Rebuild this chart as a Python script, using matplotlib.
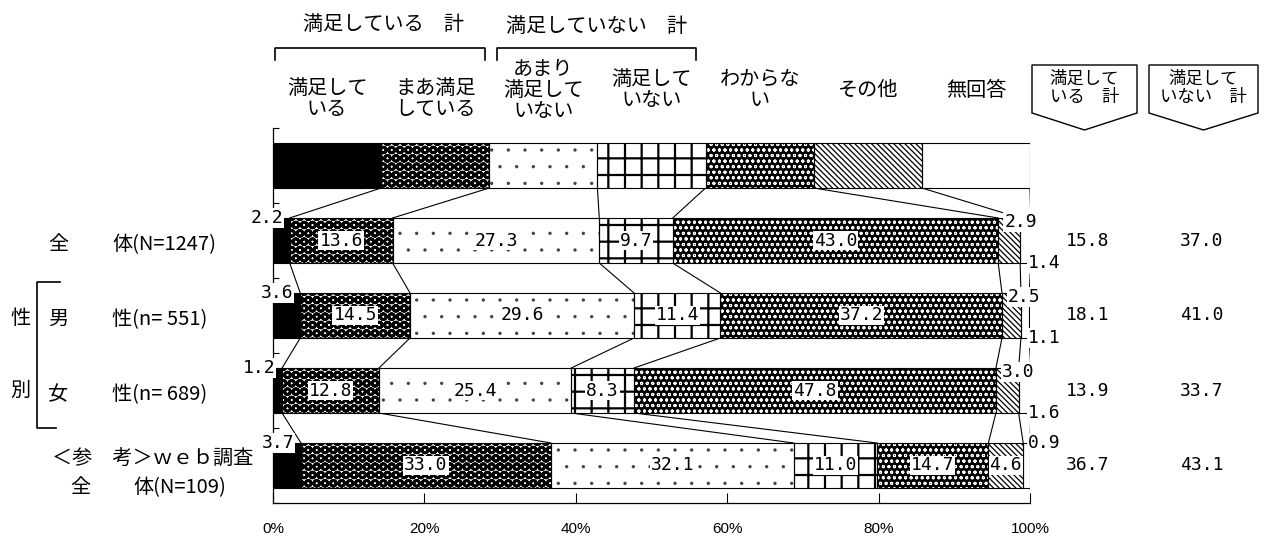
import numpy as np
import matplotlib
matplotlib.use('Agg')
import matplotlib.pyplot as plt
from matplotlib.patches import Polygon
from matplotlib.lines import Line2D
from matplotlib.transforms import blended_transform_factory

JP = ['Noto Sans CJK JP', 'DejaVu Sans']
NUM = ['DejaVu Sans Mono']
plt.rcParams['font.family'] = JP
FS = 14.5

# data
cats = ['満足して\nいる', 'まあ満足\nしている', 'あまり\n満足して\nいない', '満足して\nいない',
        'わからな\nい', 'その他', '無回答']
row_all = [2.2, 13.6, 27.3, 9.7, 43.0, 2.9, 1.4]
row_male = [3.6, 14.5, 29.6, 11.4, 37.2, 2.5, 1.1]
row_female = [1.2, 12.8, 25.4, 8.3, 47.8, 3.0, 1.6]
row_web = [3.7, 33.0, 32.1, 11.0, 14.7, 4.6, 0.9]
rows = [row_all, row_male, row_female, row_web]
sat_total = [15.8, 18.1, 13.9, 36.7]
unsat_total = [37.0, 41.0, 33.7, 43.1]

# (face, hatch colour, hatch, hatch linewidth) per answer
styles = [
    ('black', 'black', None, 1.0),
    ('white', 'black', 'OO', 2.0),
    ('white', '#444444', '.', 0.0),
    ('white', 'black', '+', 1.6),
    ('black', 'white', 'ooo', 0.7),
    ('white', 'black', '\\\\\\\\\\\\', 0.9),
    ('white', 'white', None, 1.0),
]

W, H = 1264, 541
fig = plt.figure(figsize=(W / 100, H / 100), dpi=100)
ax = fig.add_axes([273 / W, 38 / H, 757 / W, 375 / H])

legend_vals = [100 / 7] * 7
all_rows = [legend_vals] + rows
bh = 0.6

cums = []
for r, vals in enumerate(all_rows):
    left = 0
    c = [0]
    for k, v in enumerate(vals):
        face, hc, hatch, hlw = styles[k]
        with plt.rc_context({'hatch.linewidth': hlw}):
            ax.barh(r, v, left=left, height=bh, color=face, edgecolor=hc,
                    hatch=hatch, linewidth=0, zorder=2)
        ax.barh(r, v, left=left, height=bh, fill=False, edgecolor='black',
                linewidth=0.8, zorder=3)
        left += v
        c.append(left)
    cums.append(c)

# connecting lines between bars
for r in range(len(all_rows) - 1):
    for k in range(1, 8):
        ax.plot([cums[r][k], cums[r + 1][k]], [r + bh / 2, r + 1 - bh / 2],
                color='black', lw=0.8, zorder=1)

# value labels
box = dict(facecolor='white', edgecolor='none', pad=0.6)
for i, vals in enumerate(rows):
    r = i + 1
    c = cums[r]
    other_out = vals[5] < 4
    for k, v in enumerate(vals):
        s = '%.1f' % v
        if k == 0:
            ax.text(c[1] - 0.9, r - bh / 2, s, ha='right', va='center', family=NUM,
                    fontsize=13, bbox=box, zorder=5)
        elif k == 5 and other_out:
            ax.text(c[5] + 0.8, r - bh / 2 + 0.05, s, ha='left', va='center', family=NUM,
                    fontsize=13, bbox=box, zorder=5)
        elif k == 6:
            y = r + bh / 2 if other_out else r - bh / 2
            ax.text(99.7, y, s, ha='left', va='center', family=NUM,
                    fontsize=13, bbox=box, zorder=5)
        else:
            ax.text((c[k] + c[k + 1]) / 2, r, s, ha='center', va='center', family=NUM,
                    fontsize=13, bbox=box, zorder=5)

ax.set_xlim(0, 100)
ax.set_ylim(4.5, -0.5)
ax.set_xticks(range(0, 101, 20))
ax.set_xticklabels(['%d%%' % t for t in range(0, 101, 20)],
                   family=['Liberation Sans Narrow', 'Liberation Sans'], fontsize=11)
ax.set_yticks(np.arange(-0.5, 4.6, 1))
ax.set_yticklabels([])
ax.tick_params(axis='x', direction='in', length=7, pad=14)
ax.tick_params(axis='y', direction='in', length=4)
ax.spines['top'].set_visible(False)
ax.spines['right'].set_visible(False)
for s in ['left', 'bottom']:
    ax.spines[s].set_linewidth(0.9)

# column headers above the legend bar
tx = blended_transform_factory(ax.transData, fig.transFigure)
for k, name in enumerate(cats):
    y = 99 if k < 2 else 90
    fig.text((k + 0.5) * 100 / 7, 1 - y / H, name, transform=tx, ha='center',
             va='center', fontsize=FS, linespacing=1.0)

fig.text(14.6, 1 - 25 / H, '満足している　計', transform=tx, ha='center', va='center', fontsize=FS)
fig.text(42.8, 1 - 26 / H, '満足していない　計', transform=tx, ha='center', va='center', fontsize=FS)
for x0, x1 in [(0.3, 28.0), (29.6, 55.9)]:
    fig.add_artist(Line2D([x0, x0, x1, x1], [1 - 60 / H, 1 - 48 / H, 1 - 48 / H, 1 - 60 / H],
                          transform=tx, color='black', lw=1.2))

# total boxes on the right
for x0, x1, txt in [(1032, 1137, '満足して\nいる　計'), (1149, 1258, '満足して\nいない　計')]:
    pts = [(x0, 65), (x1, 65), (x1, 113), ((x0 + x1) / 2, 130), (x0, 113)]
    fig.add_artist(Polygon([(x / W, 1 - y / H) for x, y in pts], closed=True,
                           transform=fig.transFigure, facecolor='white',
                           edgecolor='black', lw=1.0))
    fig.text((x0 + x1) / 2 / W, 1 - 88 / H, txt, ha='center', va='center',
             fontsize=12.5, linespacing=1.0)

ty = blended_transform_factory(fig.transFigure, ax.transData)
for i in range(len(rows)):
    fig.text(1088 / W, i + 1, '%.1f' % sat_total[i], transform=ty, ha='center',
             va='center', family=NUM, fontsize=13)
    fig.text(1202 / W, i + 1, '%.1f' % unsat_total[i], transform=ty, ha='center',
             va='center', family=NUM, fontsize=13)

# row labels
row_names = ['体(N=1247)', '性(n= 551)', '性(n= 689)']
row_first = ['全', '男', '女']
for i in range(3):
    fig.text(48 / W, i + 1.05, row_first[i], transform=ty, ha='left', va='center', fontsize=FS)
    fig.text(112 / W, i + 1.05, row_names[i], transform=ty, ha='left', va='center', fontsize=FS)
fig.text(52 / W, 3.92, '＜参　考＞ｗｅｂ調査', transform=ty, ha='left', va='center', fontsize=FS)
fig.text(70 / W, 4.3, '全', transform=ty, ha='left', va='center', fontsize=FS)
fig.text(133 / W, 4.3, '体(N=109)', transform=ty, ha='left', va='center', fontsize=FS)

fig.text(20 / W, 1 - 318 / H, '性', ha='center', va='center', fontsize=FS)
fig.text(20 / W, 1 - 390 / H, '別', ha='center', va='center', fontsize=FS)
fig.add_artist(Line2D([60 / W, 37 / W, 37 / W, 56 / W],
                      [1 - 282 / H, 1 - 282 / H, 1 - 428 / H, 1 - 428 / H],
                      transform=fig.transFigure, color='black', lw=1.2))

fig.savefig('out.png', dpi=100, facecolor='white')
